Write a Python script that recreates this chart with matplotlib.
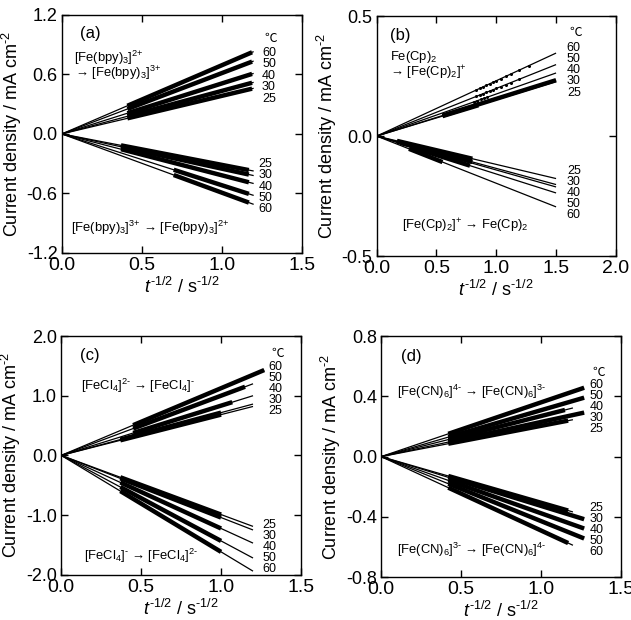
import matplotlib
matplotlib.use("Agg")
import matplotlib.pyplot as plt
from matplotlib.ticker import FormatStrFormatter, MultipleLocator

plt.rcParams.update({
    "font.family": ["Liberation Sans", "Noto Sans CJK JP", "DejaVu Sans"],
    "mathtext.fontset": "custom",
    "mathtext.rm": "Liberation Sans",
    "mathtext.it": "Liberation Sans:italic",
    "mathtext.bf": "Liberation Sans:bold",
    "axes.unicode_minus": False,
    "xtick.direction": "in",
    "ytick.direction": "in",
    "xtick.top": True,
    "ytick.right": True,
    "xtick.major.size": 5,
    "ytick.major.size": 5,
    "axes.linewidth": 1.0,
})

TEMPS = ["25", "30", "40", "50", "60"]

# ---- (a) [Fe(bpy)3]2+/3+  (values ordered 25, 30, 40, 50, 60 C)
a_up_xend = [1.2, 1.2, 1.2, 1.2, 1.2]
a_up_yend = [0.46, 0.52, 0.61, 0.735, 0.83]
a_up_thick = [(0.41, 1.19), (0.41, 1.19), (0.41, 1.19), (0.41, 1.19), (0.41, 1.19)]
a_lo_xend = [1.2, 1.2, 1.2, 1.2, 1.2]
a_lo_yend = [-0.374, -0.42, -0.50, -0.62, -0.71]
a_lo_thick = [(0.37, 1.17), (0.37, 1.17), (0.37, 1.17), (0.70, 1.17), (0.70, 1.17)]

# ---- (b) Fe(Cp)2
b_up_xend = [1.5, 1.5, 1.5, 1.5, 1.5]
b_up_yend = [0.227, 0.233, 0.263, 0.298, 0.346]
b_up_thick = [(0.55, 0.85), (0.55, 1.5), None, None, None]
b_lo_xend = [1.5, 1.5, 1.5, 1.5, 1.5]
b_lo_yend = [-0.177, -0.202, -0.212, -0.237, -0.295]
b_lo_thick = [(0.17, 0.8), (0.17, 0.8), (0.2, 0.65), (0.3, 0.78), (0.27, 0.55)]
b_dots_x = {
    "40": [0.81, 0.84, 0.87, 0.90, 0.92],
    "50": [0.834, 0.862, 0.887, 0.918, 0.946, 0.971, 1.0, 1.04, 1.08, 1.12, 1.19],
    "60": [0.834, 0.862, 0.887, 0.918, 0.946, 0.971, 1.0, 1.04, 1.08, 1.12, 1.19, 1.27],
}

# ---- (c) [FeCl4]-/2-
c_up_xend = [1.2, 1.2, 1.2, 1.2, 1.27]
c_up_yend = [0.82, 0.86, 1.0, 1.2, 1.43]
c_up_thick = [(0.37, 1.0), (0.37, 1.0), (0.45, 1.07), (0.45, 1.15), (0.45, 1.27)]
c_lo_xend = [1.2, 1.2, 1.2, 1.2, 1.2]
c_lo_yend = [-1.19, -1.25, -1.47, -1.72, -1.94]
c_lo_thick = [(0.37, 1.0), (0.37, 1.0), (0.37, 1.0), (0.37, 1.0), (0.37, 1.0)]

# ---- (d) [Fe(CN)6]3-/4-
d_up_xend = [1.2, 1.27, 1.2, 1.27, 1.27]
d_up_yend = [0.245, 0.292, 0.323, 0.391, 0.457]
d_up_thick = [(0.42, 1.17), (0.42, 1.27), (0.42, 1.15), (0.42, 1.27), (0.42, 1.27)]
d_lo_xend = [1.2, 1.27, 1.27, 1.27, 1.2]
d_lo_yend = [-0.367, -0.415, -0.477, -0.543, -0.588]
d_lo_thick = [(0.42, 1.17), (0.42, 1.27), (0.42, 1.27), (0.42, 1.27), (0.42, 1.17)]


def draw_set(ax, xend, yend, thick):
    for xe, ye, th in zip(xend, yend, thick):
        k = ye / xe
        ax.plot([0, xe], [0, ye], color="black", lw=0.9, solid_capstyle="butt")
        if th is not None:
            ax.plot([th[0], th[1]], [k * th[0], k * th[1]], color="black", lw=3.2,
                    solid_capstyle="butt")


def temp_labels(ax, x, y_top, step, order, deg_y=None):
    if deg_y is not None:
        ax.text(x + 0.01, deg_y, "℃", transform=ax.transAxes, fontsize=9,
                family=["Noto Sans CJK JP", "DejaVu Sans"], va="center", ha="left")
    for i, t in enumerate(order):
        ax.text(x, y_top - i * step, t, transform=ax.transAxes, fontsize=9,
                va="center", ha="left")


def setup(ax, xlim, xstep, ylim, ystep, tag, tag_xy):
    ax.set_xlim(*xlim)
    ax.set_ylim(*ylim)
    ax.xaxis.set_major_locator(MultipleLocator(xstep))
    ax.yaxis.set_major_locator(MultipleLocator(ystep))
    ax.xaxis.set_major_formatter(FormatStrFormatter("%.1f"))
    ax.yaxis.set_major_formatter(FormatStrFormatter("%.1f"))
    ax.tick_params(width=1.0, pad=3)
    ax.tick_params(axis="x", labelsize=14)
    ax.tick_params(axis="y", labelsize=13)
    ax.set_xlabel(r"$t^{\text{-}1/2}$ / s$^{\text{-}1/2}$", fontsize=13, labelpad=2)
    ax.set_ylabel(r"Current density / mA cm$^{\text{-}2}$", fontsize=13, labelpad=2)
    ax.text(tag_xy[0], tag_xy[1], tag, transform=ax.transAxes, fontsize=12,
            ha="center", va="center")


fig = plt.figure(figsize=(6.31, 6.2), dpi=100)
axa = fig.add_axes([0.098, 0.592, 0.380, 0.384])
axb = fig.add_axes([0.597, 0.587, 0.379, 0.387])
axc = fig.add_axes([0.097, 0.073, 0.380, 0.385])
axd = fig.add_axes([0.604, 0.069, 0.380, 0.389])

rev = TEMPS[::-1]
fs = 9.4

# (a)
draw_set(axa, a_up_xend, a_up_yend, a_up_thick)
draw_set(axa, a_lo_xend, a_lo_yend, a_lo_thick)
setup(axa, (0, 1.5), 0.5, (-1.2, 1.2), 0.6, "(a)", (0.117, 0.92))
temp_labels(axa, 0.835, 0.84, 0.048, rev, deg_y=0.90)
temp_labels(axa, 0.82, 0.374, 0.0475, TEMPS)
axa.text(0.05, 0.82, r"[Fe(bpy)$_3$]$^{2\text{+}}$", transform=axa.transAxes, fontsize=fs, va="center")
axa.text(0.055, 0.755, r"→ [Fe(bpy)$_3$]$^{3\text{+}}$", transform=axa.transAxes, fontsize=fs, va="center")
axa.text(0.04, 0.105, r"[Fe(bpy)$_3$]$^{3\text{+}}$ → [Fe(bpy)$_3$]$^{2\text{+}}$", transform=axa.transAxes,
         fontsize=fs, va="center")

# (b)
draw_set(axb, b_up_xend, b_up_yend, b_up_thick)
draw_set(axb, b_lo_xend, b_lo_yend, b_lo_thick)
for t, xs in b_dots_x.items():
    i = TEMPS.index(t)
    k = b_up_yend[i] / b_up_xend[i]
    axb.plot(xs, [k * x for x in xs], "o", color="black", ms=2.2, mew=0)
setup(axb, (0, 2.0), 0.5, (-0.5, 0.5), 0.5, "(b)", (0.098, 0.92))
temp_labels(axb, 0.795, 0.868, 0.0467, rev, deg_y=0.93)
temp_labels(axb, 0.795, 0.356, 0.0467, TEMPS)
axb.text(0.056, 0.828, r"Fe(Cp)$_2$", transform=axb.transAxes, fontsize=fs, va="center")
axb.text(0.056, 0.765, r"→ [Fe(Cp)$_2$]$^{\text{+}}$", transform=axb.transAxes, fontsize=fs, va="center")
axb.text(0.107, 0.127, r"[Fe(Cp)$_2$]$^{\text{+}}$ → Fe(Cp)$_2$", transform=axb.transAxes,
         fontsize=fs, va="center")

# (c)
draw_set(axc, c_up_xend, c_up_yend, c_up_thick)
draw_set(axc, c_lo_xend, c_lo_yend, c_lo_thick)
setup(axc, (0, 1.5), 0.5, (-2.0, 2.0), 1.0, "(c)", (0.12, 0.918))
temp_labels(axc, 0.865, 0.872, 0.046, rev, deg_y=0.928)
temp_labels(axc, 0.84, 0.21, 0.046, TEMPS)
axc.text(0.083, 0.79, r"[FeCl$_4$]$^{2\text{-}}$ → [FeCl$_4$]$^{\text{-}}$", transform=axc.transAxes,
         fontsize=fs, va="center")
axc.text(0.097, 0.08, r"[FeCl$_4$]$^{\text{-}}$ → [FeCl$_4$]$^{2\text{-}}$", transform=axc.transAxes,
         fontsize=fs, va="center")

# (d)
draw_set(axd, d_up_xend, d_up_yend, d_up_thick)
draw_set(axd, d_lo_xend, d_lo_yend, d_lo_thick)
setup(axd, (0, 1.5), 0.5, (-0.8, 0.8), 0.4, "(d)", (0.124, 0.915))
temp_labels(axd, 0.87, 0.797, 0.046, rev, deg_y=0.85)
temp_labels(axd, 0.87, 0.289, 0.046, TEMPS)
axd.text(0.068, 0.77, r"[Fe(CN)$_6$]$^{4\text{-}}$ → [Fe(CN)$_6$]$^{3\text{-}}$", transform=axd.transAxes,
         fontsize=fs, va="center")
axd.text(0.068, 0.115, r"[Fe(CN)$_6$]$^{3\text{-}}$ → [Fe(CN)$_6$]$^{4\text{-}}$", transform=axd.transAxes,
         fontsize=fs, va="center")

fig.savefig("out.png", dpi=100)
